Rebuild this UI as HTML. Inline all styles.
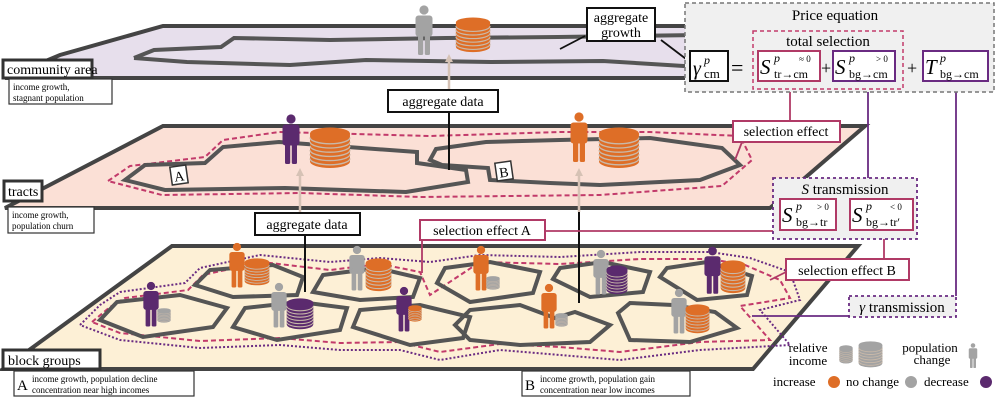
<!DOCTYPE html>
<html><head><meta charset="utf-8"><style>
html,body{margin:0;padding:0;background:#fff}
svg{display:block}
text,tspan{font-family:"Liberation Serif","DejaVu Serif",serif}
</style></head><body>
<svg width="997" height="403" viewBox="0 0 997 403" xmlns="http://www.w3.org/2000/svg" font-family="Liberation Serif, serif">
<defs>
<symbol id="p" viewBox="0 0 20 50">
<circle cx="10" cy="5" r="4.6"/>
<rect x="1.5" y="10.5" width="17" height="21" rx="3"/>
<rect x="4" y="26" width="5.2" height="24" rx="1.5"/>
<rect x="10.8" y="26" width="5.2" height="24" rx="1.5"/>
</symbol>
<symbol id="c" viewBox="0 0 40 40" preserveAspectRatio="none">
<path d="M1 6 V33 A19 6 0 0 0 39 33 V6 Z"/>
<ellipse cx="20" cy="6" rx="19" ry="5.5"/>
<g fill="none" stroke="#c9b9a9" stroke-width="1.3">
<path d="M1 10 A19 6 0 0 0 39 10"/><path d="M1 14 A19 6 0 0 0 39 14"/><path d="M1 18 A19 6 0 0 0 39 18"/><path d="M1 22 A19 6 0 0 0 39 22"/><path d="M1 26 A19 6 0 0 0 39 26"/><path d="M1 30 A19 6 0 0 0 39 30"/>
</g>
</symbol>
</defs>

<!-- community plane -->
<polygon points="163,26 700,26 700,78 5,78 60,55" fill="#e7dfec" stroke="#444" stroke-width="4"/>
<polyline points="134,58 154,50 221,47 234,38 330,40 446,38 558,37 700,35" fill="none" stroke="#555" stroke-width="4"/>
<polyline points="700,67 603,61 491,62 366,60 290,65 187,62 134,58" fill="none" stroke="#555" stroke-width="4"/>
<use href="#p" x="414" y="5" width="20" height="50" fill="#a3a3a3"/>
<use href="#c" x="455" y="17" width="36" height="36" fill="#de6e27"/>
<line x1="449" y1="90" x2="449" y2="58" stroke="#d6c2b5" stroke-width="2.5"/>
<polygon points="449,54 445,62 453,62" fill="#d6c2b5"/>

<!-- tracts plane -->
<polygon points="163,126 865,126 770,208 5,208 40,190" fill="#fbe0d6" stroke="#444" stroke-width="4"/>
<polyline points="108,181 130,166 205,157 223,140 279,132 430,136 560,132 650,132 740,136 752,160 722,186 600,195 420,197 300,193 162,195 108,181" fill="none" stroke="#c23a6a" stroke-width="2" stroke-dasharray="5,3"/>
<polygon points="125,180 145,165 205,163 223,147 279,142 417,152 417,163 466,170 468,182 406,192 285,188 165,190" fill="none" stroke="#555" stroke-width="4"/>
<polygon points="430,160 436,149 486,142 560,140 650,138 722,148 740,165 700,180 600,185 550,183 490,180 488,168 442,165" fill="none" stroke="#555" stroke-width="4"/>
<rect x="171" y="166" width="16" height="18" fill="#fff" stroke="#333" stroke-width="1.5" transform="rotate(-8 179 175)"/>
<text x="174" y="181" font-size="14" transform="rotate(-8 179 175)">A</text>
<rect x="496" y="162" width="16" height="18" fill="#fff" stroke="#333" stroke-width="1.5" transform="rotate(-8 504 171)"/>
<text x="499" y="177" font-size="14" transform="rotate(-8 504 171)">B</text>
<use href="#p" x="281" y="110" width="20" height="58" fill="#5b2a6e"/>
<use href="#c" x="309" y="127" width="42" height="42" fill="#de6e27"/>
<use href="#p" x="569" y="108" width="20" height="58" fill="#de6e27"/>
<use href="#c" x="598" y="127" width="42" height="42" fill="#de6e27"/>
<line x1="300" y1="213" x2="300" y2="174" stroke="#d6c2b5" stroke-width="2.5"/>
<polygon points="300,168 296,176 304,176" fill="#d6c2b5"/>
<line x1="579" y1="212" x2="579" y2="174" stroke="#d6c2b5" stroke-width="2.5"/>
<polygon points="579,168 575,176 583,176" fill="#d6c2b5"/>
<line x1="449" y1="113" x2="449" y2="170" stroke="#111" stroke-width="2"/>

<!-- block groups plane -->
<polygon points="172,246 858,246 753,369 3,369" fill="#fdf0d6" stroke="#444" stroke-width="4"/>
<polyline points="80,325 100,305 120,292 185,283 200,268 260,255 330,262 380,258 430,262 480,255 560,257 640,252 710,252 750,258 790,272 800,300 760,310 790,345 700,350 620,360 560,355 500,350 440,360 400,350 340,350 280,345 200,348 120,340 80,325" fill="none" stroke="#6a2b82" stroke-width="2" stroke-dasharray="2,2"/>
<polyline points="92,322 110,307 125,298 188,290 203,275 262,262 330,270 380,264 420,272 430,295 480,262 560,264 640,259 710,259 745,265 780,280 790,298 740,306 770,340 700,342 620,352 560,347 500,344 440,352 400,342 340,343 280,338 200,341 120,333 92,322" fill="none" stroke="#c23a6a" stroke-width="2" stroke-dasharray="5,3"/>
<g fill="none" stroke="#555" stroke-width="4">
<polygon points="100,320 117,302 180,295 227,308 213,327 143,337"/>
<polygon points="195,285 210,270 273,265 303,277 297,295 233,297"/>
<polygon points="233,327 245,308 300,302 347,308 340,330 277,340"/>
<polygon points="313,292 323,275 377,268 420,278 413,297 360,300"/>
<polygon points="353,327 360,310 420,305 470,317 463,338 410,345"/>
<polygon points="437,283 445,268 490,262 540,272 533,293 470,302"/>
<polygon points="553,279 560,268 603,262 650,272 643,292 590,297"/>
<polygon points="660,277 667,268 707,262 752,276 747,295 697,300"/>
<polygon points="618,313 630,303 673,305 715,312 737,328 690,342 630,340"/>
<polygon points="455,325 470,310 520,305 555,318 575,312 610,325 590,342 520,345 470,340"/>
</g>
<use href="#p" x="142" y="280" width="18" height="48" fill="#5b2a6e"/>
<use href="#c" x="157" y="308" width="14" height="15" fill="#a3a3a3"/>
<use href="#p" x="228" y="240" width="18" height="50" fill="#de6e27"/>
<use href="#c" x="244" y="258" width="26" height="28" fill="#de6e27"/>
<use href="#p" x="270" y="280" width="18" height="50" fill="#a3a3a3"/>
<use href="#c" x="286" y="298" width="28" height="32" fill="#5b2a6e"/>
<use href="#p" x="348" y="243" width="18" height="50" fill="#a3a3a3"/>
<use href="#c" x="365" y="258" width="27" height="34" fill="#de6e27"/>
<use href="#p" x="395" y="285" width="18" height="48" fill="#5b2a6e"/>
<use href="#c" x="408" y="305" width="14" height="17" fill="#de6e27"/>
<use href="#p" x="472" y="243" width="18" height="50" fill="#de6e27"/>
<use href="#c" x="486" y="276" width="14" height="14" fill="#a3a3a3"/>
<use href="#p" x="540" y="282" width="18" height="48" fill="#de6e27"/>
<use href="#c" x="555" y="313" width="13" height="14" fill="#a3a3a3"/>
<use href="#p" x="592" y="246" width="18" height="52" fill="#a3a3a3"/>
<use href="#c" x="606" y="265" width="22" height="30" fill="#5b2a6e"/>
<use href="#p" x="703" y="245" width="19" height="50" fill="#5b2a6e"/>
<use href="#c" x="720" y="260" width="26" height="34" fill="#de6e27"/>
<use href="#p" x="670" y="286" width="18" height="50" fill="#a3a3a3"/>
<use href="#c" x="685" y="304" width="25" height="30" fill="#de6e27"/>
<line x1="305" y1="235" x2="305" y2="292" stroke="#111" stroke-width="2"/>
<line x1="579" y1="212" x2="579" y2="303" stroke="#111" stroke-width="2"/>

<!-- connectors -->
<g fill="none" stroke-width="1.8">
<line x1="545" y1="231" x2="781" y2="231" stroke="#b03a66"/>
<line x1="422" y1="240" x2="422" y2="273" stroke="#b03a66"/>
<line x1="790" y1="81" x2="790" y2="121" stroke="#b03a66"/>
<line x1="742" y1="142" x2="735" y2="160" stroke="#b03a66"/>
<line x1="884" y1="230" x2="884" y2="259" stroke="#b03a66"/>
<line x1="790" y1="270" x2="770" y2="280" stroke="#b03a66"/>
<line x1="868" y1="81" x2="868" y2="178" stroke="#6a2b82"/>
<polyline points="956,81 956,296" stroke="#6a2b82"/>
<polyline points="849,316 752,316" stroke="#6a2b82"/>
<line x1="585" y1="36" x2="560" y2="49" stroke="#111"/>
<line x1="661" y1="40" x2="690" y2="62" stroke="#111"/>
</g>

<!-- labels -->
<g font-size="14">
<rect x="587" y="8" width="68" height="33" fill="#fff" stroke="#111" stroke-width="2"/>
<text x="621" y="22" text-anchor="middle">aggregate</text>
<text x="621" y="37" text-anchor="middle">growth</text>
<rect x="388" y="90" width="110" height="22" fill="#fff" stroke="#111" stroke-width="2"/>
<text x="443" y="106" text-anchor="middle">aggregate data</text>
<rect x="255" y="213" width="105" height="22" fill="#fff" stroke="#111" stroke-width="2"/>
<text x="307" y="229" text-anchor="middle">aggregate data</text>
<rect x="420" y="220" width="125" height="20" fill="#fff" stroke="#b03a66" stroke-width="2"/>
<text x="482" y="235" text-anchor="middle">selection effect A</text>
<rect x="733" y="121" width="107" height="21" fill="#fff" stroke="#b03a66" stroke-width="2"/>
<text x="786" y="136" text-anchor="middle">selection effect</text>
<rect x="786" y="259" width="123" height="21" fill="#fff" stroke="#b03a66" stroke-width="2"/>
<text x="847" y="275" text-anchor="middle">selection effect B</text>

<rect x="3" y="60" width="89" height="18" fill="#fff" stroke="#333" stroke-width="3"/>
<text x="7" y="74">community area</text>
<rect x="9" y="79" width="103" height="25" fill="#fff" stroke="#333" stroke-width="1.2"/>
<text x="13" y="90" font-size="9">income growth,</text>
<text x="13" y="101" font-size="9">stagnant population</text>
<rect x="4" y="181" width="38" height="20" fill="#fff" stroke="#333" stroke-width="3"/>
<text x="8" y="196">tracts</text>
<rect x="8" y="207" width="86" height="26" fill="#fff" stroke="#333" stroke-width="1.2"/>
<text x="12" y="218" font-size="9">income growth,</text>
<text x="12" y="229" font-size="9">population churn</text>
<rect x="3" y="350" width="97" height="19" fill="#fff" stroke="#333" stroke-width="3"/>
<text x="8" y="365">block groups</text>
<rect x="14" y="371" width="180" height="25" fill="#fff" stroke="#333" stroke-width="1.2"/>
<text x="17" y="390" font-size="15">A</text>
<text x="32" y="382" font-size="9">income growth, population decline</text>
<text x="32" y="393" font-size="9">concentration near high incomes</text>
<rect x="522" y="371" width="168" height="25" fill="#fff" stroke="#333" stroke-width="1.2"/>
<text x="525" y="390" font-size="15">B</text>
<text x="540" y="382" font-size="9">income growth, population gain</text>
<text x="540" y="393" font-size="9">concentration near low incomes</text>
</g>

<!-- Price equation -->
<rect x="685" y="3" width="309" height="89" fill="#f0f0f0" stroke="#777" stroke-width="1.5" stroke-dasharray="4,3"/>
<text x="835" y="20" font-size="15" text-anchor="middle">Price equation</text>
<rect x="753" y="31" width="150" height="58" fill="none" stroke="#c23a6a" stroke-width="1.5" stroke-dasharray="4,3"/>
<text x="828" y="46" font-size="15" text-anchor="middle">total selection</text>
<rect x="690" y="51" width="38" height="30" fill="#fff" stroke="#111" stroke-width="2"/>
<text x="693" y="75" font-size="20" font-style="italic">γ</text>
<text x="704" y="64" font-size="12" font-style="italic">p</text>
<text x="704" y="78" font-size="13">cm</text>
<text x="731" y="75" font-size="22">=</text>
<rect x="758" y="51" width="62" height="30" fill="#fff" stroke="#b03a66" stroke-width="2"/>
<text x="760" y="74" font-size="21" font-style="italic">S</text>
<text x="774" y="62" font-size="12" font-style="italic">p</text>
<text x="799" y="62" font-size="9">≈ 0</text>
<text x="774" y="78" font-size="12">tr→cm</text>
<text x="821" y="74" font-size="18">+</text>
<rect x="833" y="51" width="62" height="30" fill="#fff" stroke="#6a2b82" stroke-width="2"/>
<text x="835" y="74" font-size="21" font-style="italic">S</text>
<text x="849" y="62" font-size="12" font-style="italic">p</text>
<text x="876" y="62" font-size="9">&gt; 0</text>
<text x="849" y="78" font-size="12">bg→cm</text>
<text x="907" y="74" font-size="18">+</text>
<rect x="923" y="51" width="65" height="30" fill="#fff" stroke="#6a2b82" stroke-width="2"/>
<text x="925" y="74" font-size="21" font-style="italic">T</text>
<text x="940" y="62" font-size="12" font-style="italic">p</text>
<text x="940" y="78" font-size="12">bg→cm</text>

<!-- S transmission -->
<rect x="773" y="178" width="144" height="61" fill="#f0f0f0" stroke="#6a2b82" stroke-width="1.8" stroke-dasharray="3,3"/>
<text x="845" y="194" font-size="15" text-anchor="middle"><tspan font-style="italic">S</tspan> transmission</text>
<rect x="780" y="199" width="56" height="31" fill="#fff" stroke="#b03a66" stroke-width="2"/>
<text x="782" y="222" font-size="21" font-style="italic">S</text>
<text x="796" y="210" font-size="12" font-style="italic">p</text>
<text x="817" y="210" font-size="9">&gt; 0</text>
<text x="796" y="226" font-size="12">bg→tr</text>
<rect x="850" y="199" width="63" height="31" fill="#fff" stroke="#b03a66" stroke-width="2"/>
<text x="852" y="222" font-size="21" font-style="italic">S</text>
<text x="866" y="210" font-size="12" font-style="italic">p</text>
<text x="890" y="210" font-size="9">&lt; 0</text>
<text x="866" y="226" font-size="12">bg→tr′</text>

<rect x="849" y="296" width="107" height="21" fill="#f0f0f0" stroke="#6a2b82" stroke-width="1.8" stroke-dasharray="3,3"/>
<text x="902" y="312" font-size="15" text-anchor="middle"><tspan font-style="italic">γ</tspan> transmission</text>

<!-- legend -->
<g font-size="13">
<text x="808" y="352" text-anchor="middle">relative</text>
<text x="808" y="365" text-anchor="middle">income</text>
<use href="#c" x="839" y="345" width="14" height="19" fill="#a3a3a3"/>
<use href="#c" x="858" y="341" width="25" height="27" fill="#a3a3a3"/>
<text x="930" y="352" text-anchor="middle">population</text>
<text x="932" y="364" text-anchor="middle">change</text>
<use href="#p" x="968" y="342" width="10" height="27" fill="#a3a3a3"/>
<text x="773" y="386">increase</text>
<circle cx="834" cy="382" r="6" fill="#de6e27"/>
<text x="846" y="386">no change</text>
<circle cx="911" cy="382" r="6" fill="#a3a3a3"/>
<text x="924" y="386">decrease</text>
<circle cx="986" cy="382" r="6" fill="#5b2a6e"/>
</g>
</svg>
</body></html>
